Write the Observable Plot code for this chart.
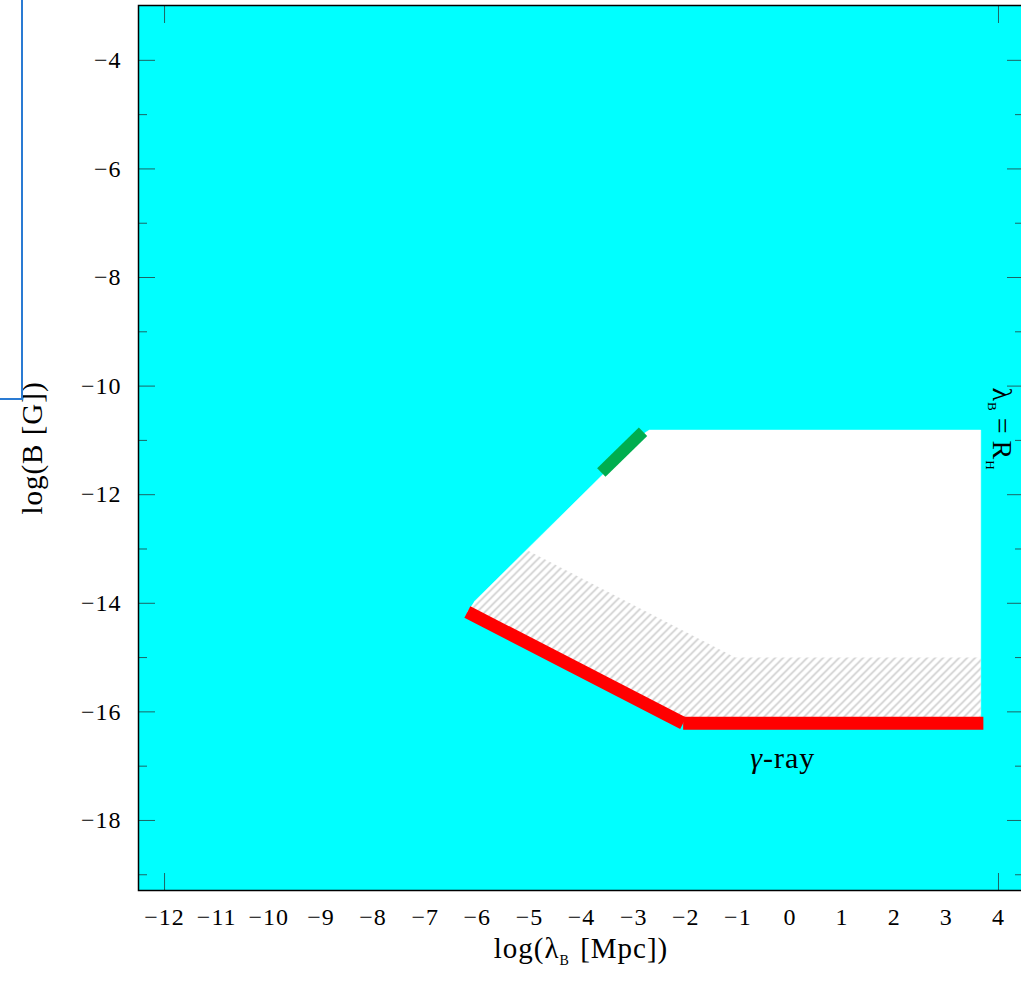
<!DOCTYPE html>
<html><head><meta charset="utf-8">
<script src="https://cdn.jsdelivr.net/npm/d3@7"></script>
<script src="https://cdn.jsdelivr.net/npm/@observablehq/plot@0.6"></script>
<style>
html,body{margin:0;padding:0;background:#fff;overflow:hidden;width:1021px;height:985px;}
#chart{position:absolute;left:0;top:0;width:1030px;}
#chart svg{max-width:none !important;}
#chart svg text{letter-spacing:1px;}
#artifact{position:absolute;left:0;top:-2px;width:21px;height:400px;border-right:2px solid #2a7bd3;border-bottom:2px solid #2a7bd3;}
</style></head><body>
<svg width="0" height="0" style="position:absolute"><defs>
<pattern id="hatch" patternUnits="userSpaceOnUse" width="8" height="8">
<path d="M-2,2 L2,-2 M0,8 L8,0 M6,10 L10,6" stroke="#c8c8c8" stroke-width="1.5"/>
</pattern></defs></svg>
<div id="chart"></div>
<div id="artifact"></div>
<script>
// ---- tick values ----
const xTickValues = [-12, -11, -10, -9, -8, -7, -6, -5, -4, -3, -2, -1, 0, 1, 2, 3, 4];
const xTickMarks = [-12, 4];
const yMajorTicks = [-4, -6, -8, -10, -12, -14, -16, -18];
const yMinorTicks = [-5, -7, -9, -11, -13, -15, -17, -19];

// ---- allowed (white) region ----
const allowedX = [-6.06, -2.78, -2.70, 3.66, 3.66, -2.05, -6.19];
const allowedY = [-13.97, -10.86, -10.81, -10.81, -16.21, -16.21, -14.16];

// ---- hatched region ----
const hatchX = [-5.05, -1.05, 3.66, 3.66, -2.05, -6.19, -6.06];
const hatchY = [-13.02, -15.0, -15.0, -16.21, -16.21, -14.16, -13.97];

// ---- gamma-ray bound (red) ----
const gammaDiagX = [-6.19, -2.05];
const gammaDiagY = [-14.16, -16.21];
const gammaFlatX = [-2.05, 3.71];
const gammaFlatY = [-16.21, -16.21];

// ---- green segment ----
const greenX = [-3.62, -2.82];
const greenY = [-11.59, -10.84];

// ---- labels ----
const xAxisLabel = ["log(λB [Mpc])"];
const yAxisLabel = ["log(B [G])"];
const gammaLabel = [{text: "γ-ray", x: -0.14, y: -16.85}];
const horizonLabel = [{text: "λB=RH", x: 4.06, y: -10.79}];

const pts = (xs, ys) => xs.map((x, i) => ({x, y: ys[i]}));
const fontFamily = '"Liberation Serif", "Times New Roman", serif';
const tickColor = "#1d6464";
const blank = () => "";
const intFmt = d => String(d).replace("-", "\u2212");

const chart = Plot.plot({
  width: 1030, height: 985,
  marginLeft: 138, marginRight: 7, marginTop: 5, marginBottom: 95,
  x: {domain: [-12.5, 4.48]},
  y: {domain: [-19.29, -2.99]},
  style: {fontFamily, background: "white", overflow: "visible", color: "black", maxWidth: "none"},
  marks: [
    Plot.frame({fill: "#00ffff", stroke: null}),
    Plot.line(pts(allowedX, allowedY), {x: "x", y: "y", fill: "white", stroke: "white", strokeWidth: 0.5}),
    Plot.line(pts(hatchX, hatchY), {x: "x", y: "y", fill: "url(#hatch)", stroke: null}),
    Plot.line(pts(gammaDiagX, gammaDiagY), {x: "x", y: "y", stroke: "#ff0000", strokeWidth: 13, strokeLinecap: "butt"}),
    Plot.line(pts(gammaFlatX, gammaFlatY), {x: "x", y: "y", stroke: "#ff0000", strokeWidth: 13, strokeLinecap: "butt"}),
    Plot.line(pts(greenX, greenY), {x: "x", y: "y", stroke: "#00ae4f", strokeWidth: 12, strokeLinecap: "butt"}),
    // axes: labels
    Plot.axisY(yMajorTicks, {anchor: "left", tickSize: 0, tickPadding: 17, fontSize: 24, tickFormat: intFmt, label: null}),
    Plot.axisX(xTickValues, {anchor: "bottom", tickSize: 0, tickPadding: 17, fontSize: 24, tickFormat: intFmt, label: null}),
    // axes: inward ticks
    Plot.axisY(yMajorTicks, {anchor: "left", tickSize: -17, tickFormat: blank, label: null, stroke: tickColor}),
    Plot.axisY(yMinorTicks, {anchor: "left", tickSize: -9, tickFormat: blank, label: null, stroke: tickColor}),
    Plot.axisY(yMajorTicks, {anchor: "right", tickSize: -17, tickFormat: blank, label: null, stroke: tickColor}),
    Plot.axisY(yMinorTicks, {anchor: "right", tickSize: -9, tickFormat: blank, label: null, stroke: tickColor}),
    Plot.axisX(xTickMarks, {anchor: "bottom", tickSize: -17, tickFormat: blank, label: null, stroke: tickColor}),
    Plot.axisX(xTickMarks, {anchor: "top", tickSize: -17, tickFormat: blank, label: null, stroke: tickColor}),
    Plot.frame({stroke: "black", strokeWidth: 1.5}),
    // texts
    Plot.text(xAxisLabel, {text: d => d, frameAnchor: "bottom", textAnchor: "middle", dy: 67, fontSize: 29}),
    Plot.text(yAxisLabel, {text: d => d, frameAnchor: "left", textAnchor: "middle", dx: -106, rotate: -90, fontSize: 29}),
    Plot.text(gammaLabel, {x: "x", y: "y", text: "text", fontSize: 30}),
    Plot.text(horizonLabel, {x: "x", y: "y", text: "text", rotate: 90, fontSize: 28})
  ]
});

function rich(el, parts) {
  const s = d3.select(el);
  s.text(null);
  let shift = 0;
  for (const p of parts) {
    const ts = s.append("tspan").text(p.t);
    const target = p.sub ? p.sub : 0;
    if (target - shift !== 0) ts.attr("dy", target - shift);
    shift = target;
    if (p.dx) ts.attr("dx", p.dx);
    if (p.size) ts.style("font-size", p.size + "px");
    if (p.italic) ts.style("font-style", "italic");
  }
}
d3.select(chart).selectAll("text").each(function () {
  const t = this.textContent;
  if (t === "log(λB [Mpc])") rich(this, [{t: "log(λ"}, {t: "B", sub: 7, size: 14}, {t: " [Mpc])", dx: 2}]);
  else if (t === "λB=RH") rich(this, [{t: "λ"}, {t: "B", sub: 5, size: 13}, {t: "=", dx: 6}, {t: "R", dx: 6}, {t: "H", sub: 7, size: 13}]);
  else if (t === "γ-ray") rich(this, [{t: "γ", italic: true}, {t: "-ray"}]);
});
document.getElementById("chart").appendChild(chart);
</script>
</body></html>
